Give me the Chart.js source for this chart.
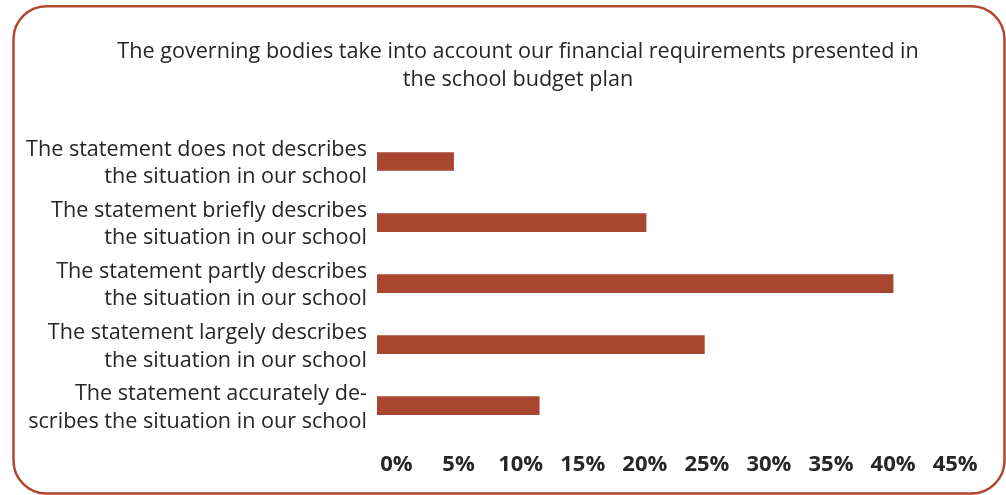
<!DOCTYPE html>
<html>
<head>
<meta charset="utf-8">
<title>School budget plan survey</title>
<script src="https://cdn.jsdelivr.net/npm/chart.js@4/dist/chart.umd.min.js"></script>
<style>
  html, body { margin: 0; padding: 0; background: #ffffff; }
  #wrap { width: 1006px; height: 495px; position: relative; }
</style>
</head>
<body>
<div id="wrap"><canvas id="chart" width="1006" height="495"></canvas></div>
<script>
// Answer categories (two-line labels)
const categories = [
  ['The statement does not describes', 'the situation in our school'],
  ['The statement briefly describes', 'the situation in our school'],
  ['The statement partly describes', 'the situation in our school'],
  ['The statement largely describes', 'the situation in our school'],
  ['The statement accurately de-', 'scribes the situation in our school']
];

// Share of respondents, in percent
const shares = [4.6, 20.1, 40.0, 24.8, 11.5];

// Axis tick values (percent)
const tickValues = [0, 5, 10, 15, 20, 25, 30, 35, 40, 45];

const titleLines = [
  'The governing bodies take into account our financial requirements presented in',
  'the school budget plan'
];

const axisStart = -1.57;
const axisEnd = 47;

const FONT = "'Open Sans', 'Liberation Sans', sans-serif";
const TEXT = '#262626';
const BAR = '#A8462F';
const FRAME = '#B2462F';

// Rounded frame around the whole chart
const framePlugin = {
  id: 'frame',
  beforeDraw(chart) {
    const ctx = chart.ctx;
    const x0 = 13.5, y0 = 6.2, x1 = 1004.5, y1 = 493.5, r = 33;
    ctx.save();
    ctx.fillStyle = '#ffffff';
    ctx.fillRect(0, 0, chart.width, chart.height);
    ctx.beginPath();
    ctx.moveTo(x0 + r, y0);
    ctx.lineTo(x1 - r, y0);
    ctx.arcTo(x1, y0, x1, y0 + r, r);
    ctx.lineTo(x1, y1 - r);
    ctx.arcTo(x1, y1, x1 - r, y1, r);
    ctx.lineTo(x0 + r, y1);
    ctx.arcTo(x0, y1, x0, y1 - r, r);
    ctx.lineTo(x0, y0 + r);
    ctx.arcTo(x0, y0, x0 + r, y0, r);
    ctx.closePath();
    ctx.lineWidth = 2.5;
    ctx.strokeStyle = FRAME;
    ctx.stroke();
    ctx.restore();
  }
};

// Two-line heading centred over the frame
const headingPlugin = {
  id: 'heading',
  afterDraw(chart) {
    const ctx = chart.ctx;
    ctx.save();
    ctx.font = `normal 21.6px ${FONT}`;
    ctx.fillStyle = TEXT;
    ctx.textAlign = 'center';
    ctx.textBaseline = 'alphabetic';
    titleLines.forEach((line, i) => ctx.fillText(line, 518, 58 + i * 27.5));
    ctx.restore();
  }
};

new Chart(document.getElementById('chart'), {
  type: 'bar',
  data: {
    labels: categories,
    datasets: [{
      data: shares,
      backgroundColor: BAR,
      borderWidth: 0,
      barThickness: 18,
      base: axisStart
    }]
  },
  options: {
    indexAxis: 'y',
    responsive: false,
    animation: false,
    devicePixelRatio: 1,
    layout: { padding: { left: 13, right: 26, top: 131, bottom: 2.4 } },
    plugins: {
      legend: { display: false },
      tooltip: { enabled: false },
      title: { display: false }
    },
    scales: {
      x: {
        type: 'linear',
        min: axisStart,
        max: axisEnd,
        grid: { display: false, drawTicks: false },
        border: { display: false },
        afterBuildTicks(scale) {
          scale.ticks = tickValues.map(v => ({ value: v }));
        },
        afterFit(scale) {
          scale.paddingLeft = 0;
          scale.paddingRight = 0;
        },
        ticks: {
          color: TEXT,
          padding: 15,
          maxRotation: 0,
          autoSkip: false,
          font: { family: FONT, size: 22, weight: 'bold', lineHeight: 1.2 },
          callback: v => v + '%'
        }
      },
      y: {
        grid: { display: false, drawTicks: false },
        border: { display: false },
        afterFit(scale) {
          scale.width = 364;
          scale.paddingTop = 0;
          scale.paddingBottom = 0;
        },
        ticks: {
          color: TEXT,
          padding: 10,
          labelOffset: 2,
          autoSkip: false,
          font: { family: FONT, size: 21.6, lineHeight: 1.27 }
        }
      }
    }
  },
  plugins: [framePlugin, headingPlugin]
});
</script>
</body>
</html>
